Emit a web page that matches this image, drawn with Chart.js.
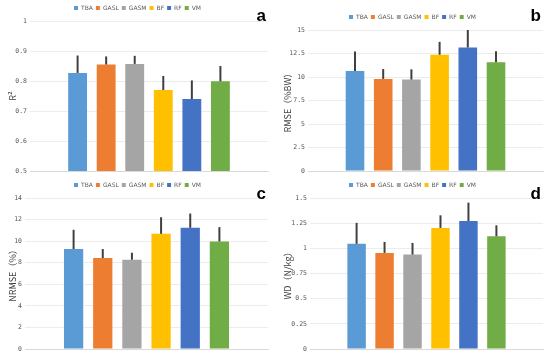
<!DOCTYPE html>
<html>
<head>
<meta charset="utf-8">
<script src="https://cdn.jsdelivr.net/npm/chart.js@4"></script>
<style>
  body { margin: 0; background: #fff; }
  #wrap { position: relative; width: 550px; height: 356px; }
  canvas { position: absolute; }
</style>
</head>
<body>
<div id="wrap">
  <canvas id="chartA" width="275" height="178" style="left:0;top:0"></canvas>
  <canvas id="chartB" width="275" height="178" style="left:275px;top:0"></canvas>
  <canvas id="chartC" width="275" height="178" style="left:0;top:178px"></canvas>
  <canvas id="chartD" width="275" height="178" style="left:275px;top:178px"></canvas>
</div>
<script>
// nama model
var models = ['TBA', 'GASL', 'GASM', 'BF', 'RF', 'VM'];
var colors = ['#5B9BD5', '#ED7D31', '#A5A5A5', '#FFC000', '#4472C4', '#70AD47'];

// nilai rata-rata dan error
var r2Mean = [0.827, 0.855, 0.857, 0.770, 0.740, 0.799];
var r2Err = [0.058, 0.027, 0.027, 0.047, 0.062, 0.051];
var rmseMean = [10.64, 9.80, 9.73, 12.37, 13.14, 11.56];
var rmseErr = [2.08, 1.05, 1.09, 1.37, 1.86, 1.19];
var nrmseMean = [9.27, 8.44, 8.28, 10.68, 11.24, 9.97];
var nrmseErr = [1.78, 0.83, 0.65, 1.54, 1.32, 1.33];
var wdMean = [1.045, 0.955, 0.939, 1.203, 1.272, 1.120];
var wdErr = [0.208, 0.109, 0.115, 0.125, 0.182, 0.109];

// plugin garis error (hanya ke atas)
var errorBars = {
  id: 'errorBars',
  afterDatasetsDraw: function (chart, args, opts) {
    var c = chart.ctx;
    var y = chart.scales.y;
    c.save();
    c.strokeStyle = '#404040';
    c.lineWidth = 2;
    chart.data.datasets.forEach(function (ds, i) {
      var bar = chart.getDatasetMeta(i).data[0];
      var top = ds.data[0] + opts.errs[i];
      c.beginPath();
      c.moveTo(bar.x, bar.y);
      c.lineTo(bar.x, y.getPixelForValue(top));
      c.stroke();
    });
    c.restore();
  }
};

// plugin huruf panel
var panelLetter = {
  id: 'panelLetter',
  afterDraw: function (chart, args, opts) {
    var c = chart.ctx;
    c.save();
    c.fillStyle = '#000';
    c.font = 'bold 17px "Liberation Sans", Arial, sans-serif';
    c.textAlign = 'right';
    c.textBaseline = 'middle';
    c.fillText(opts.text, chart.width - 9, 16);
    c.restore();
  }
};

function makeChart(id, means, errs, letter, title, min, max, step, axisW, padTop) {
  var datasets = models.map(function (m, i) {
    return {
      label: m,
      data: [means[i]],
      backgroundColor: colors[i],
      categoryPercentage: 0.72,
      barPercentage: 0.66
    };
  });
  return new Chart(document.getElementById(id).getContext('2d'), {
    type: 'bar',
    data: { labels: [''], datasets: datasets },
    options: {
      responsive: false,
      animation: false,
      layout: { padding: { top: padTop, right: 7, bottom: 6, left: 7 } },
      plugins: {
        legend: {
          position: 'top',
          labels: {
            boxWidth: 4,
            boxHeight: 4,
            padding: 3,
            color: '#595959',
            font: { size: 6, family: '"DejaVu Sans", sans-serif' }
          }
        },
        tooltip: { enabled: false },
        errorBars: { errs: errs },
        panelLetter: { text: letter }
      },
      scales: {
        x: {
          grid: { display: false, drawTicks: false },
          border: { color: '#d9d9d9' },
          ticks: { display: false }
        },
        y: {
          min: min,
          max: max,
          border: { display: false },
          grid: { color: '#ececec', drawTicks: false },
          afterFit: function (scale) { scale.width = axisW; },
          ticks: {
            stepSize: step,
            color: '#595959',
            padding: 3,
            font: { size: 6.5, family: '"DejaVu Sans Mono", monospace' },
            callback: function (v) { return String(+v.toFixed(2)); }
          },
          title: {
            display: true,
            text: title,
            color: '#404040',
            padding: 0,
            font: { size: 9, family: '"Noto Sans CJK SC", "Noto Sans", sans-serif' }
          }
        }
      }
    },
    plugins: [errorBars, panelLetter]
  });
}

makeChart('chartA', r2Mean, r2Err, 'a', 'R²', 0.5, 1, 0.1, 23, 2);
makeChart('chartB', rmseMean, rmseErr, 'b', 'RMSE（%BW）', 0, 15, 2.5, 26, 11);
makeChart('chartC', nrmseMean, nrmseErr, 'c', 'NRMSE（%）', 0, 14, 2, 18, 1);
makeChart('chartD', wdMean, wdErr, 'd', 'WD（N/kg）', 0, 1.5, 0.25, 28, 1);
</script>
</body>
</html>
